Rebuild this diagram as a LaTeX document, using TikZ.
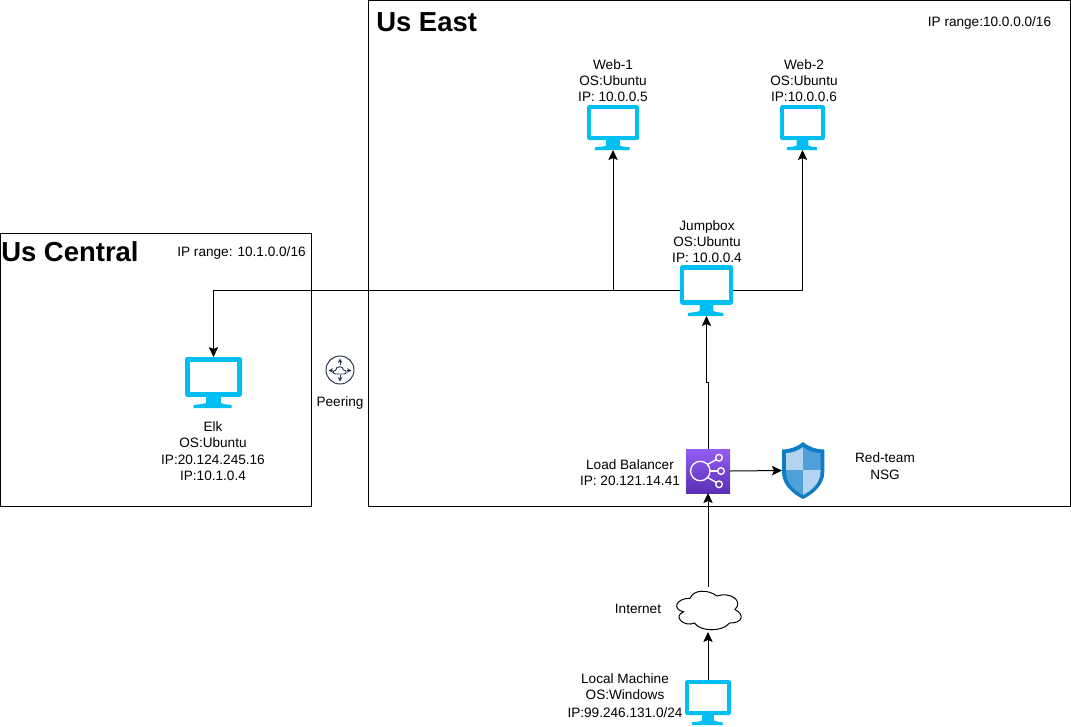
\documentclass[tikz,border=0pt]{standalone}
\usepackage{fontspec}
\setmainfont{Liberation Sans}
\usetikzlibrary{arrows.meta}
\definecolor{mon}{HTML}{00BEF2}
\definecolor{peer}{HTML}{2B3650}
\definecolor{lbtop}{HTML}{945DF2}
\definecolor{lbbot}{HTML}{5A30B5}
\definecolor{shout}{HTML}{0F7CC6}
\definecolor{shlight}{HTML}{B3D4EE}
\definecolor{shmid}{HTML}{4F9FD9}
\tikzset{
  x=0.75pt,y=-0.75pt,
  frame/.style={draw=black,line width=0.75pt},
  iconbox/.style={inner sep=0pt,outer sep=0pt,draw=none},
  lbl/.style={align=center,inner sep=0pt,font=\fontsize{10.2}{12}\selectfont},
  title/.style={anchor=west,inner sep=0pt,font=\fontsize{20.6}{24}\selectfont\bfseries},
  conn/.style={draw=black,line width=0.75pt,-{Stealth[length=7.5pt,width=7pt,inset=1.5pt]}},
  arrowin/.style={draw=peer,line width=0.7pt,-{Stealth[length=3.4pt,width=3.4pt]}},
}
% name, left, top, width, height
\newcommand\monitor[5]{%
  \node[iconbox,minimum width=#4*0.75pt,minimum height=#5*0.75pt] (#1) at ({#2+#4/2},{#3+#5/2}) {};
  \begin{scope}[shift={(#2,#3)},xscale=#4,yscale=#5]
    \fill[mon,rounded corners=1.8pt] (0,0) rectangle (1,0.78);
    \fill[white] (0.08,0.09) rectangle (0.92,0.69);
    \fill[mon] (0.37,0.78) -- (0.37,0.90) .. controls (0.34,0.92) and (0.25,0.93) .. (0.15,0.94) -- (0.15,1) -- (0.82,1) -- (0.82,0.94) .. controls (0.72,0.93) and (0.66,0.92) .. (0.63,0.90) -- (0.63,0.78) -- cycle;
  \end{scope}
}
\begin{document}
\begin{tikzpicture}
\useasboundingbox (0,0) rectangle (1071,726);
% frames
\node[frame,inner sep=0pt,minimum width=311*0.75pt,minimum height=273*0.75pt] (central) at (155.5,369.5) {};
\node[frame,inner sep=0pt,minimum width=701.5*0.75pt,minimum height=506*0.75pt] (east) at (719.25,253) {};
% titles and labels
\node[title] (tEast) at (376,22) {Us East};
\node[title] (tCentral) at (1,252) {Us Central};
\node[lbl] (ipE) at (989.5,23) {IP range:10.0.0.0/16};
\node[lbl] (ipC) at (241.5,253) {IP range: 10.1.0.0/16};
\node[lbl] (lWeb1) at (613,81) {Web-1\\OS:Ubuntu\\IP: 10.0.0.5};
\node[lbl] (lWeb2) at (804,81) {Web-2\\OS:Ubuntu\\IP:10.0.0.6};
\node[lbl] (lJump) at (707,242) {Jumpbox\\OS:Ubuntu\\IP: 10.0.0.4};
\node[lbl] (lElk) at (213,451) {Elk\\OS:Ubuntu\\[1pt]IP:20.124.245.16\\IP:10.1.0.4};
\node[lbl] (lLB) at (630,473) {Load Balancer\\IP: 20.121.14.41};
\node[lbl] (lNet) at (638,609) {Internet};
\node[lbl] (lNSG) at (885,466) {Red-team\\[1pt]NSG};
\node[lbl] (lLocal) at (625,696) {Local Machine\\OS:Windows\\[1.5pt]IP:99.246.131.0/24};
\node[lbl] (lPeer) at (340,403) {Peering};
% monitors
\monitor{web1}{587}{105}{52}{45}
\monitor{web2}{780}{105}{45}{45}
\monitor{jump}{680}{265}{53}{51}
\monitor{elk}{185}{357}{57}{51}
\monitor{local}{685}{680}{46}{45}
% load balancer
\node[iconbox,minimum width=44*0.75pt,minimum height=44*0.75pt] (lb) at (708,471) {};
\shade[top color=lbtop,bottom color=lbbot] (686,449) rectangle (730,493);
\begin{scope}[draw=white,line width=1pt]
  \draw (700.3,471) circle[radius=7.3pt];
  \draw (719,457.7) circle[radius=2.5pt];
  \draw (721,471) circle[radius=2.5pt];
  \draw (719,484.3) circle[radius=2.5pt];
  \draw (707.5,464.5) -- (716.3,459.6);
  \draw (710,471) -- (717.7,471);
  \draw (707.5,477.5) -- (716.3,482.4);
\end{scope}
% shield
\node[iconbox,minimum width=42*0.75pt,minimum height=57*0.75pt] (nsg) at (803,470.5) {};
\fill[shout] (803,442) .. controls (797,447) and (790,449.5) .. (782,449.5) -- (782,472) .. controls (782,485) and (793,494) .. (803,499) .. controls (813,494) and (824.3,485) .. (824.3,472) -- (824.3,449.5) .. controls (816,449.5) and (809,447) .. (803,442) -- cycle;
\begin{scope}
  \clip (803,447) .. controls (798,451) and (792,453) .. (786,453) -- (786,472) .. controls (786,483) and (795,491) .. (803,495) .. controls (811,491) and (820.5,483) .. (820.5,472) -- (820.5,453) .. controls (814,453) and (808,451) .. (803,447) -- cycle;
  \fill[shlight] (780,440) rectangle (803,470);
  \fill[shmid] (803,440) rectangle (826,470);
  \fill[shmid] (780,470) rectangle (803,500);
  \fill[shlight] (803,470) rectangle (826,500);
\end{scope}
% cloud
\node[iconbox,minimum width=72*0.75pt,minimum height=45*0.75pt] (cloud) at (708,609.5) {};
\begin{scope}[shift={(672,587)},xscale=72,yscale=45]
  \draw[fill=white,line width=0.75pt] (0.25,0.25) .. controls (0.05,0.25) and (0,0.5) .. (0.16,0.55) .. controls (0,0.66) and (0.18,0.9) .. (0.31,0.8) .. controls (0.4,1) and (0.7,1) .. (0.8,0.8) .. controls (1,0.8) and (1,0.6) .. (0.875,0.5) .. controls (1,0.3) and (0.8,0.1) .. (0.625,0.2) .. controls (0.5,0.05) and (0.3,0.05) .. (0.25,0.25) -- cycle;
\end{scope}
% peering icon
\node[iconbox,minimum width=28*0.75pt,minimum height=28*0.75pt] (peering) at (340,370) {};
\draw[peer,line width=0.75pt] (340,370) circle[radius=10.5pt];
\draw[arrowin] (340,365) -- (340,358.5);
\draw[arrowin] (340,375) -- (340,381.5);
\draw[arrowin] (333,370.5) -- (328.5,370.5);
\draw[arrowin] (347,370.5) -- (351.5,370.5);
\draw[peer,line width=0.7pt,fill=white] (335.5,374) .. controls (332.5,374) and (332.5,370.5) .. (335.5,370.5) .. controls (336,365.5) and (343,365.5) .. (343.5,370) .. controls (347,370) and (347,374) .. (344,374) -- cycle;
% connectors
\coordinate (jumpW) at (jump.west);
\coordinate (jumpE) at (jump.east);
\draw[conn] (jumpW) -| (web1.south);
\draw[conn] (jumpE) -| (web2.south);
\draw[conn] (jumpW) -| (elk.north);
\coordinate (kink) at (708,382);
\draw[conn] (lb.north) -- (kink) -| (jump.south);
\draw[conn] (lb.east) -- (nsg.west);
\draw[conn] (cloud.north) -- (lb.south);
\draw[conn] (local.north) -- (cloud.south);
\end{tikzpicture}
\end{document}
